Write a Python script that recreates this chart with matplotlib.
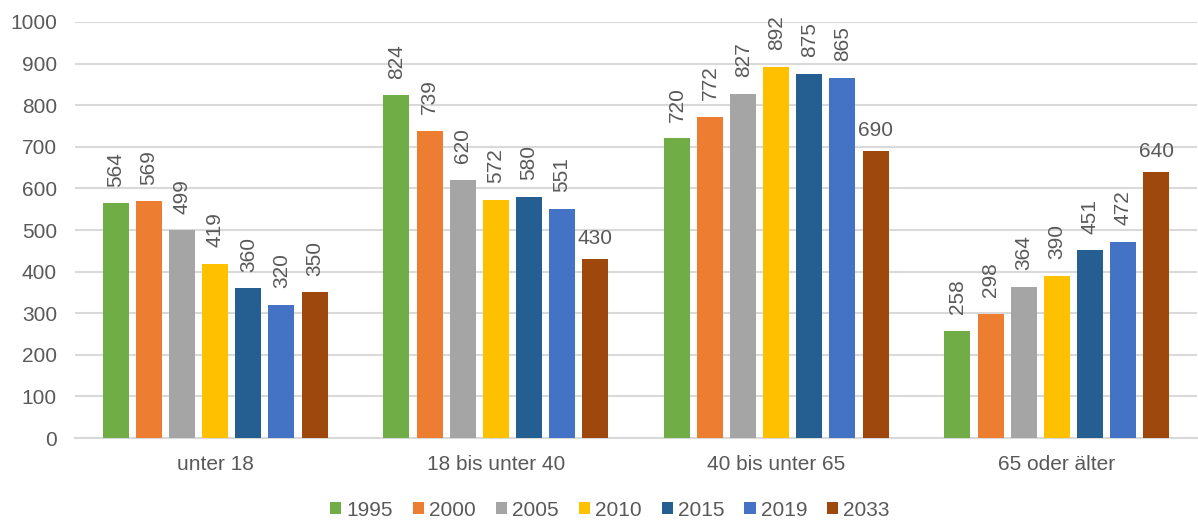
import numpy as np
import matplotlib
matplotlib.use("Agg")
import matplotlib.pyplot as plt

plt.rcParams['font.family'] = ['Liberation Sans', 'DejaVu Sans']

categories = ["unter 18", "18 bis unter 40", "40 bis unter 65", "65 oder älter"]
years = ["1995", "2000", "2005", "2010", "2015", "2019", "2033"]
v1995 = [564, 824, 720, 258]
v2000 = [569, 739, 772, 298]
v2005 = [499, 620, 827, 364]
v2010 = [419, 572, 892, 390]
v2015 = [360, 580, 875, 451]
v2019 = [320, 551, 865, 472]
v2033 = [350, 430, 690, 640]
series = [v1995, v2000, v2005, v2010, v2015, v2019, v2033]

colors = ['#70AD47', '#ED7D31', '#A5A5A5', '#FFC000', '#255E91', '#4472C4', '#9E480E']
text_color = '#595959'
grid_color = '#D9D9D9'
fs = 15

fig = plt.figure(figsize=(11.98, 5.2), dpi=100)
ax = fig.add_axes([75 / 1198, 1 - 438 / 520, 1122 / 1198, 416 / 520])

x = np.arange(len(categories))
pitch = 0.118
width = 0.093
for i, (yr, vals, col) in enumerate(zip(years, series, colors)):
    pos = x + (i - 3) * pitch
    bars = ax.bar(pos, vals, width, color=col, label=yr, zorder=3)
    for j, b in enumerate(bars):
        # last series labels sit horizontal, except the first group
        horiz = (i == 6 and j > 0)
        ax.annotate(str(vals[j]), (b.get_x() + b.get_width() / 2, b.get_height()),
                    xytext=(0, 8 if horiz else 12), textcoords='offset points',
                    ha='center', va='bottom', rotation=0 if horiz else 90,
                    fontsize=fs, color=text_color)

ax.set_xlim(-0.5, 3.5)
ax.set_ylim(0, 1000)
ax.set_yticks(range(0, 1001, 100))
ax.set_xticks(x)
ax.set_xticklabels(categories)
ax.tick_params(axis='both', length=0, labelsize=fs, labelcolor=text_color)
ax.tick_params(axis='y', pad=13)
ax.tick_params(axis='x', pad=12)
ax.grid(axis='y', color=grid_color, linewidth=1.5, zorder=0)
for s in ['top', 'right', 'left']:
    ax.spines[s].set_visible(False)
ax.spines['bottom'].set_color(grid_color)
ax.spines['bottom'].set_linewidth(1.5)

fig.legend(loc='center', bbox_to_anchor=(610 / 1198, 1 - 510 / 520), ncol=7,
           frameon=False, fontsize=fs, labelcolor=text_color,
           handlelength=0.53, handleheight=0.53, handletextpad=0.24,
           columnspacing=0.97, borderpad=0.2)

fig.savefig('out.png', dpi=100)
